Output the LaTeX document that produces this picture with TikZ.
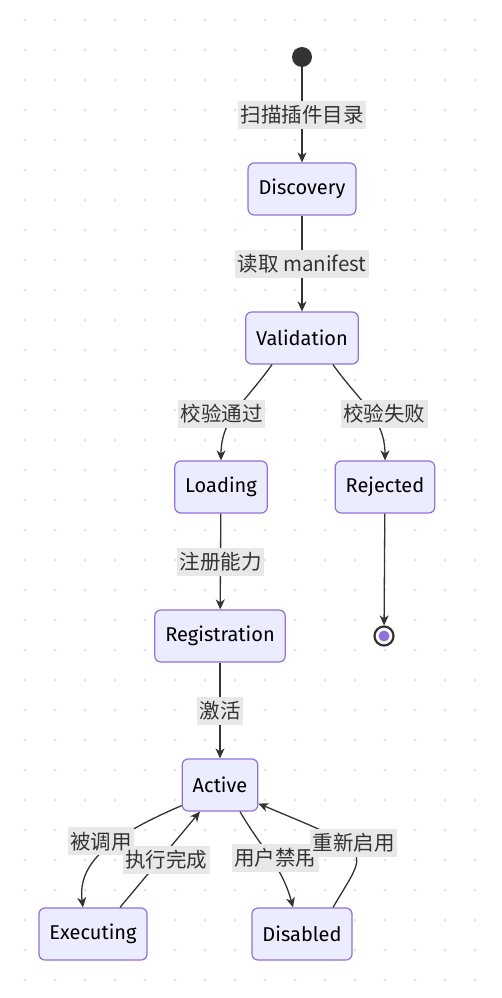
\documentclass[tikz,border=0pt]{standalone}
\usepackage{fontspec}
\setmainfont{Fira Sans}
\newfontfamily\cjk{Noto Sans CJK SC}
\usetikzlibrary{arrows.meta,calc}
\definecolor{nodefill}{HTML}{ECECFF}
\definecolor{nodeline}{HTML}{9370DB}
\definecolor{edgeline}{HTML}{333333}
\definecolor{lblfill}{HTML}{E8E8E8}
\definecolor{griddot}{HTML}{E2E2E2}

\begin{document}
\begin{tikzpicture}[x=1pt, y=1pt,
    >={Stealth[length=10pt,width=9pt,inset=3pt]},
    box/.style={draw=nodeline, line width=1.2pt, rounded corners=6pt, fill=nodefill,
                minimum height=52pt, inner xsep=10.5pt, text=black,
                font=\fontsize{20}{24}\selectfont},
    lbl/.style={fill=lblfill, text=edgeline, inner xsep=2.5pt, inner ysep=0pt,
                minimum height=28pt, font=\cjk\fontsize{20.5}{24}\selectfont},
    edge/.style={->, draw=edgeline, line width=1.3pt}]
  %% Canvas and dot grid
  \fill[white] (0,0) rectangle (502,-998);
  \useasboundingbox (0,0) rectangle (502,-998);
  \foreach \gx in {25,55,...,475}{
    \foreach \gy in {20,50,...,980}{
      \fill[griddot] (\gx,-\gy) circle (1.5);
    }
  }
  %% States
  \node[circle, fill=edgeline, minimum size=20pt, inner sep=0pt] (start) at (302,-57) {};
  \node[box] (disc) at (302,-189) {Discovery};
  \node[box] (val)  at (302,-338) {Validation};
  \node[box] (load) at (221,-487) {Loading};
  \node[box] (rej)  at (385,-487) {Rejected};
  \node[box] (reg)  at (220,-636) {Registration};
  \node[box] (act)  at (220,-785) {Active};
  \node[box] (exe)  at (93,-934)  {Executing};
  \node[box] (dis)  at (302,-934) {Disabled};
  \node[circle, draw=edgeline, line width=2.2pt, fill=white, minimum size=19pt,
        inner sep=0pt] (end) at (384,-636) {};
  \fill[nodeline] (end) circle (5.5);
  %% Transitions
  \draw[edge] (start) -- node[lbl]{扫描插件目录} (disc);
  \draw[edge] (disc) -- node[lbl]{读取 manifest} (val);
  \draw[edge] ([xshift=-30pt]val.south) to[out=-125,in=90]
    node[lbl, pos=0.55, xshift=-13pt]{校验通过} (load.north);
  \draw[edge] ([xshift=31pt]val.south) to[out=-55,in=90]
    node[lbl, pos=0.55, xshift=13pt]{校验失败} (rej.north);
  \draw[edge] (load) -- node[lbl]{注册能力} (reg);
  \draw[edge] (rej) -- (end);
  \draw[edge] (reg) -- node[lbl]{激活} (act);
  \draw[edge] ([yshift=6pt]act.south west) .. controls +(-70,-30) and +(-6,45) ..
    node[lbl, pos=0.4, xshift=-14pt]{被调用} ([xshift=-10pt]exe.north);
  \draw[edge] ([xshift=27pt]exe.north) --
    node[lbl, pos=0.5, xshift=6pt]{执行完成} ([xshift=-20pt]act.south);
  \draw[edge] ([xshift=20pt]act.south) to[out=-60,in=105]
    node[lbl, pos=0.5, xshift=5pt]{用户禁用} ([xshift=-9pt]dis.north);
  \draw[edge] ([xshift=31pt]dis.north) .. controls +(35,60) and +(120,-50) ..
    node[lbl, pos=0.5, yshift=9pt]{重新启用} ([yshift=8pt]act.south east);
\end{tikzpicture}
\end{document}
